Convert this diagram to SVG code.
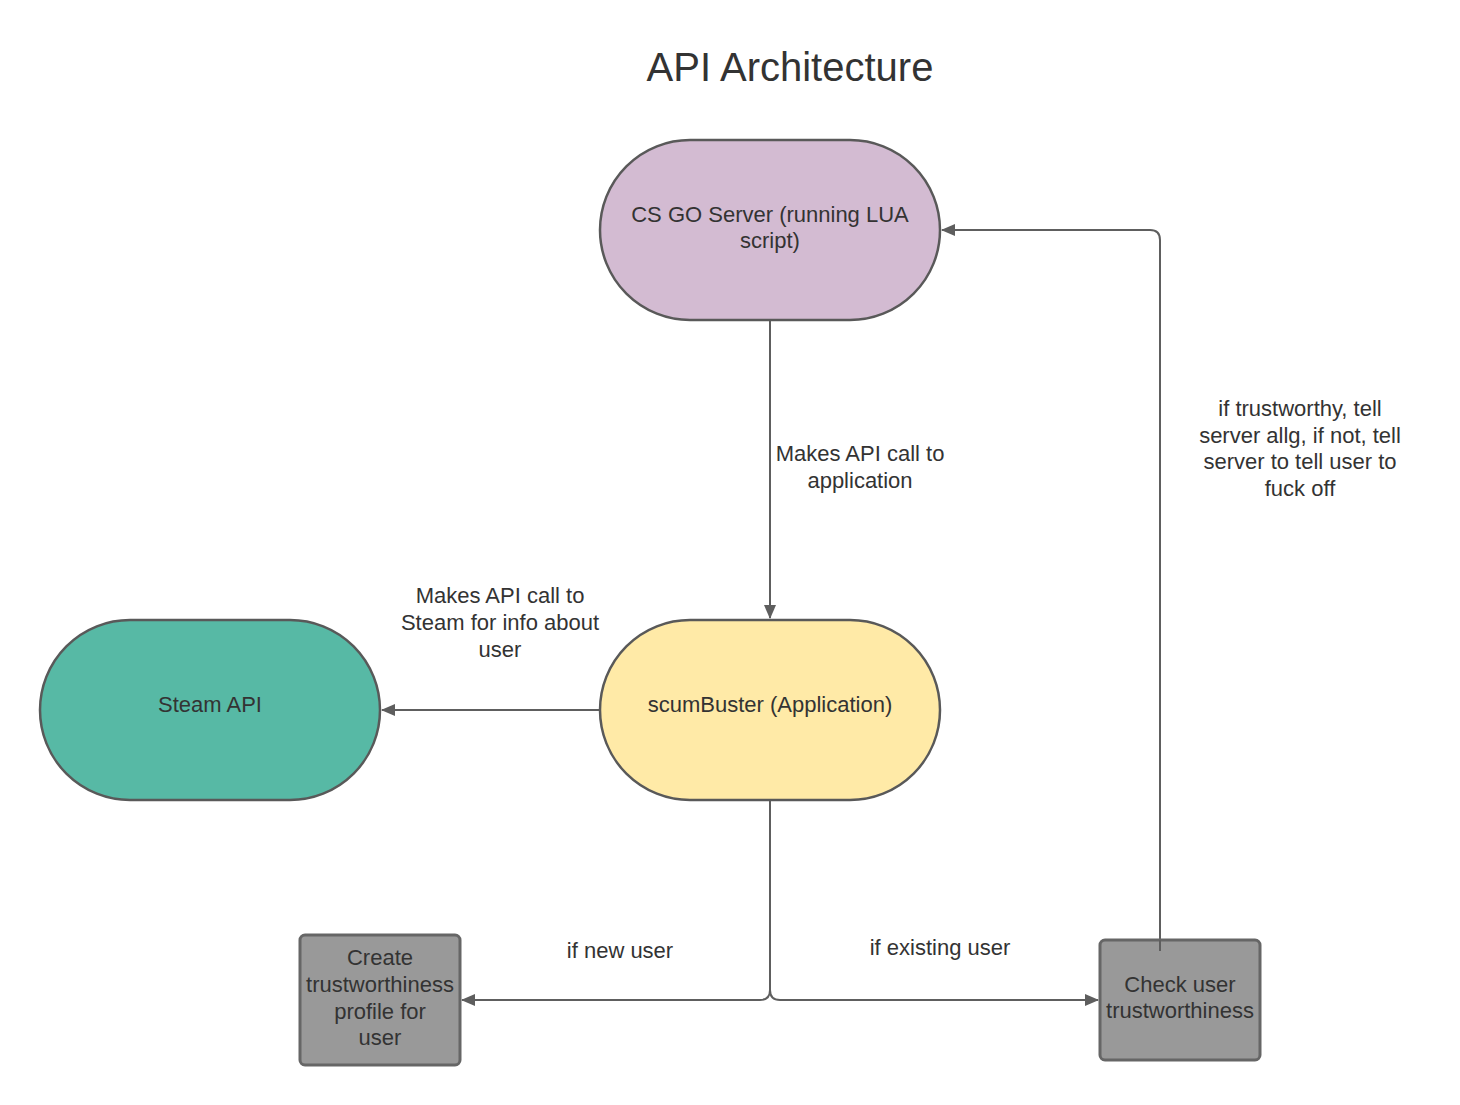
<svg xmlns="http://www.w3.org/2000/svg" width="1460" height="1105" viewBox="0 0 1460 1105">
<style>
text{font-family:"Liberation Sans",Arial,sans-serif;fill:#333333;text-anchor:middle;dominant-baseline:central}
.n{stroke:#595959;stroke-width:2.5}
.g{fill:#999999;stroke:#666666;stroke-width:3}
.c{fill:none;stroke:#5e5e5e;stroke-width:2}
.t{font-size:22px}
.l{font-size:22px}
</style>
<defs>
<marker id="a" viewBox="0 0 14 12" refX="13" refY="6" markerWidth="14" markerHeight="12" markerUnits="userSpaceOnUse" orient="auto">
<path d="M0,0 L14,6 L0,12 Z" fill="#5e5e5e"/>
</marker>
</defs>
<rect width="1460" height="1105" fill="#ffffff"/>
<text x="790" y="67" style="font-size:40px">API Architecture</text>
<g id="connectors">
<path class="c" d="M770,320 V618" marker-end="url(#a)"/>
<path class="c" d="M600,710 H382" marker-end="url(#a)"/>
<path class="c" d="M770,800 V990 Q770,1000 760,1000 H462" marker-end="url(#a)"/>
<path class="c" d="M770,990 Q770,1000 780,1000 H1098" marker-end="url(#a)"/>
<path class="c" d="M1160,951 V240 Q1160,230 1150,230 H942" marker-end="url(#a)"/>
<text class="l" x="860" y="453">Makes API call to</text>
<text class="l" x="860" y="480">application</text>
<text class="l" x="500" y="595">Makes API call to</text>
<text class="l" x="500" y="622">Steam for info about</text>
<text class="l" x="500" y="649">user</text>
<text class="l" x="1300" y="408">if trustworthy, tell</text>
<text class="l" x="1300" y="435">server allg, if not, tell</text>
<text class="l" x="1300" y="461">server to tell user to</text>
<text class="l" x="1300" y="488">fuck off</text>
<text class="l" x="620" y="950">if new user</text>
<text class="l" x="940" y="947">if existing user</text>
</g>
<g id="csgo">
<rect class="n" x="600" y="140" width="340" height="180" rx="90" ry="90" fill="#d3bbd2"/>
<text class="t" x="770" y="214">CS GO Server (running LUA</text>
<text class="t" x="770" y="240">script)</text>
</g>
<g id="scumbuster">
<rect class="n" x="600" y="620" width="340" height="180" rx="90" ry="90" fill="#ffeaa7"/>
<text class="t" x="770" y="704">scumBuster (Application)</text>
</g>
<g id="steam">
<rect class="n" x="40" y="620" width="340" height="180" rx="90" ry="90" fill="#57b9a5"/>
<text class="t" x="210" y="704">Steam API</text>
</g>
<g id="create">
<rect class="g" x="300" y="935" width="160" height="130" rx="5"/>
<text class="t" x="380" y="957">Create</text>
<text class="t" x="380" y="984">trustworthiness</text>
<text class="t" x="380" y="1011">profile for</text>
<text class="t" x="380" y="1037">user</text>
</g>
<g id="check">
<rect class="g" x="1100" y="940" width="160" height="120" rx="5"/>
<text class="t" x="1180" y="984">Check user</text>
<text class="t" x="1180" y="1010">trustworthiness</text>
<path class="c" d="M1160,940 V951"/>
</g>
</svg>
